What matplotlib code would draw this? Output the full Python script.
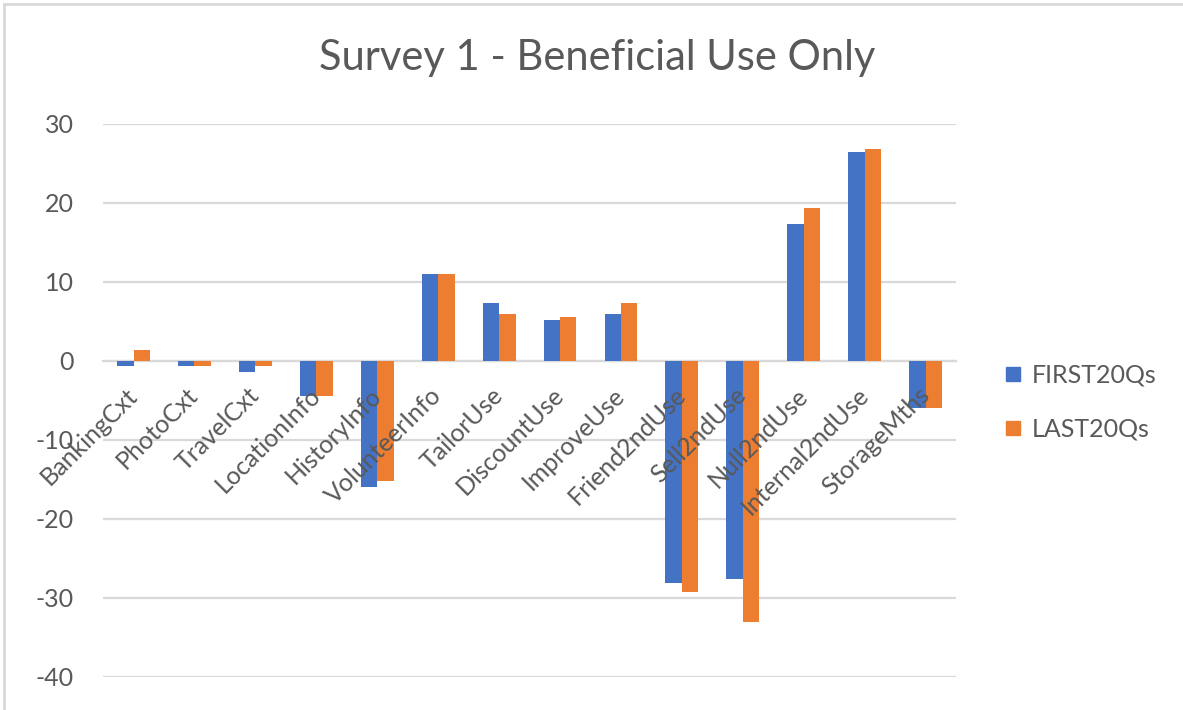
import matplotlib
matplotlib.use('Agg')
import matplotlib.pyplot as plt
import numpy as np
from matplotlib.lines import Line2D

# values
categories = ['BankingCxt', 'PhotoCxt', 'TravelCxt', 'LocationInfo', 'HistoryInfo',
              'VolunteerInfo', 'TailorUse', 'DiscountUse', 'ImproveUse', 'Friend2ndUse',
              'Sell2ndUse', 'Null2ndUse', 'Internal2ndUse', 'StorageMths']
first20 = [-0.6, -0.6, -1.4, -4.4, -16.0, 11.0, 7.3, 5.2, 6.0, -28.1, -27.6, 17.3, 26.4, -5.9]
last20 = [1.4, -0.6, -0.6, -4.4, -15.2, 11.0, 6.0, 5.6, 7.3, -29.3, -33.0, 19.4, 26.8, -6.0]
series_names = ['FIRST20Qs', 'LAST20Qs']
yticks = [-40, -30, -20, -10, 0, 10, 20, 30]

blue = '#4472C4'
orange = '#ED7D31'
grey_txt = '#595959'
grid_col = '#D9D9D9'

plt.rcParams['font.family'] = ['Lato', 'DejaVu Sans']
plt.rcParams['axes.unicode_minus'] = False

fig = plt.figure(figsize=(11.83, 7.10), dpi=100)
ax = fig.add_axes([0.0871, 0.0465, 0.7211, 0.779])

x = np.arange(len(categories))
w = 0.27
ax.bar(x - w / 2, first20, w, color=blue, label=series_names[0], zorder=3)
ax.bar(x + w / 2, last20, w, color=orange, label=series_names[1], zorder=3)

ax.set_xlim(-0.5, len(categories) - 0.5)
ax.set_ylim(-40, 30)
ax.set_yticks(yticks)
ax.yaxis.grid(True, color=grid_col, linewidth=1.6)
ax.set_axisbelow(True)
# category labels sit on top of the bars, like in excel
ax.xaxis.set_zorder(4)

for s in ['top', 'right', 'left']:
    ax.spines[s].set_visible(False)
# category axis crosses at zero
ax.spines['bottom'].set_position(('data', 0))
ax.spines['bottom'].set_color(grid_col)
ax.spines['bottom'].set_linewidth(1.6)
ax.spines['bottom'].set_zorder(1)

ax.set_xticks(x)
ax.set_xticklabels(categories, rotation=45, ha='right', va='center',
                   rotation_mode='anchor', fontsize=18, color=grey_txt)
ax.tick_params(axis='x', length=0, pad=22)
ax.tick_params(axis='y', length=0, pad=21, labelsize=18, labelcolor=grey_txt)

fig.text(0.505, 0.918, 'Survey 1 - Beneficial Use Only', ha='center', va='center',
         fontsize=30, color=grey_txt)

handles = [Line2D([], [], marker='s', linestyle='', markersize=10, color=blue),
           Line2D([], [], marker='s', linestyle='', markersize=10, color=orange)]
leg = fig.legend(handles, series_names, loc='center left', bbox_to_anchor=(0.829, 0.434),
                 frameon=False, fontsize=18, handletextpad=0.36, labelspacing=1.24,
                 handlelength=0.8)
for t in leg.get_texts():
    t.set_color(grey_txt)

# outer chart border (top and left visible)
fig.add_artist(Line2D([0.003, 1.0], [0.995, 0.995], transform=fig.transFigure,
                      color=grid_col, linewidth=2))
fig.add_artist(Line2D([0.003, 0.003], [0.0, 0.995], transform=fig.transFigure,
                      color=grid_col, linewidth=2))

fig.savefig('out.png', dpi=100)
